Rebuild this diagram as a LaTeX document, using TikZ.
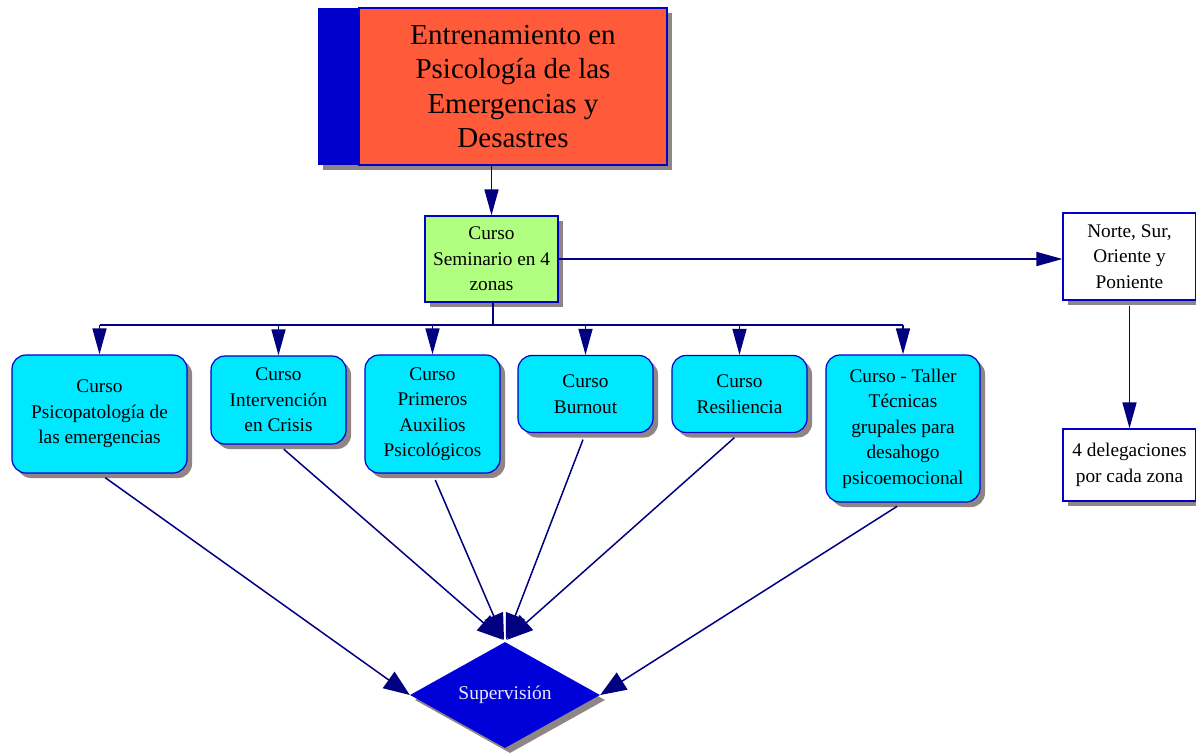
\documentclass[tikz,border=0pt]{standalone}
\usepackage{fontspec}
\setmainfont{Liberation Serif}
\usetikzlibrary{arrows.meta,shapes.geometric,shadows,calc}
\definecolor{navy}{HTML}{000080}
\definecolor{bord}{HTML}{0000C8}
\definecolor{barblue}{HTML}{0000CC}
\definecolor{redbox}{HTML}{FF5A3A}
\definecolor{greenbox}{HTML}{B0FF80}
\definecolor{cyanbox}{HTML}{00E8FF}
\definecolor{shgray}{HTML}{8F8585}
\definecolor{diablue}{HTML}{0000D8}
\definecolor{diatext}{HTML}{E8E8FF}
\tikzset{
  shad/.style={drop shadow={shadow xshift=5pt,shadow yshift=-5pt,fill=shgray,opacity=1}},
  txt/.style={font=\fontsize{19.3}{25.5}\selectfont,align=center,text=black},
  sqbox/.style={shad,draw=bord,line width=1.2pt,rectangle,inner sep=0pt},
  cbox/.style={shad,draw=bord,line width=1.2pt,fill=cyanbox,rounded corners=14pt,inner sep=0pt,txt},
  arr/.style={draw=navy,line width=1.5pt,-{Triangle[length=26pt,width=14pt]}},
  darr/.style={draw=navy,line width=1.5pt,-{Triangle[length=26pt,width=20pt]}},
  plain/.style={draw=navy,line width=1.5pt}
}
\begin{document}
\begin{tikzpicture}[x=1pt,y=-1pt]
\useasboundingbox (0,0) rectangle (1196,752);
% top box
\node[shad,fill=barblue,minimum width=41pt,minimum height=157pt,inner sep=0pt] (bar) at (338.5,86.5) {};
\node[sqbox,fill=redbox,minimum width=308pt,minimum height=157pt,font=\fontsize{29}{34.3}\selectfont,align=center] (top) at (513,86.5)
  {Entrenamiento en\\Psicología de las\\Emergencias y\\Desastres};
% green
\node[sqbox,fill=greenbox,minimum width=133pt,minimum height=86pt,txt] (green) at (491.5,259)
  {Curso\\Seminario en 4\\zonas};
% cyan boxes
\node[cbox,minimum width=175pt,minimum height=118pt] (c1) at (99.5,414) {Curso\\Psicopatología de\\las emergencias};
\node[cbox,minimum width=135pt,minimum height=88pt] (c2) at (278.5,400) {Curso\\Intervención\\en Crisis};
\node[cbox,minimum width=135pt,minimum height=118pt] (c3) at (432.5,414) {Curso\\Primeros\\Auxilios\\Psicológicos};
\node[cbox,minimum width=135pt,minimum height=77pt] (c4) at (585.5,394) {Curso\\Burnout};
\node[cbox,minimum width=135pt,minimum height=77pt] (c5) at (739.5,394) {Curso\\Resiliencia};
\node[cbox,minimum width=154pt,minimum height=147pt] (c6) at (903,428.5) {Curso - Taller\\Técnicas\\grupales para\\desahogo\\psicoemocional};
% right boxes
\node[sqbox,fill=white,minimum width=133pt,minimum height=87pt,txt] (nsop) at (1129.5,256.5) {Norte, Sur,\\Oriente y\\Poniente};
\node[sqbox,fill=white,minimum width=133pt,minimum height=72pt,txt] (deleg) at (1129.5,465) {4 delegaciones\\por cada zona};
% diamond
\node[shad,diamond,aspect=1.8,fill=diablue,minimum width=190pt,minimum height=106pt,inner sep=0pt,
  font=\fontsize{19.5}{23}\selectfont,text=diatext] (sup) at (505,695) {Supervisión};
% connectors
\draw[arr] (green.north |- top.south) -- (green.north);
\coordinate (bus) at (493,325);
\draw[plain] (green.south -| bus) -- (bus);
\draw[plain] (c1.north |- bus) -- (c6.north |- bus);
\foreach \c in {c1,c2,c3,c4,c5,c6}{\draw[arr] (\c.north |- bus) -- (\c.north);}
\draw[arr] (green.east) -- (green.east -| nsop.west);
\draw[arr,shorten <=5pt] (nsop.south) -- (deleg.north);
\draw[darr,shorten <=7pt] (c1.south) -- (sup.west);
\draw[darr,shorten <=7pt] (c2.south) -- ($(sup.north)+(-2,-2)$);
\draw[darr,shorten <=7pt] (c3.south) -- ($(sup.north)+(-1,-2)$);
\draw[darr,shorten <=7pt] (c4.south) -- ($(sup.north)+(1,-2)$);
\draw[darr,shorten <=7pt] (c5.south) -- ($(sup.north)+(2,-2)$);
\draw[darr,shorten <=7pt] (c6.south) -- (sup.east);
\end{tikzpicture}
\end{document}
